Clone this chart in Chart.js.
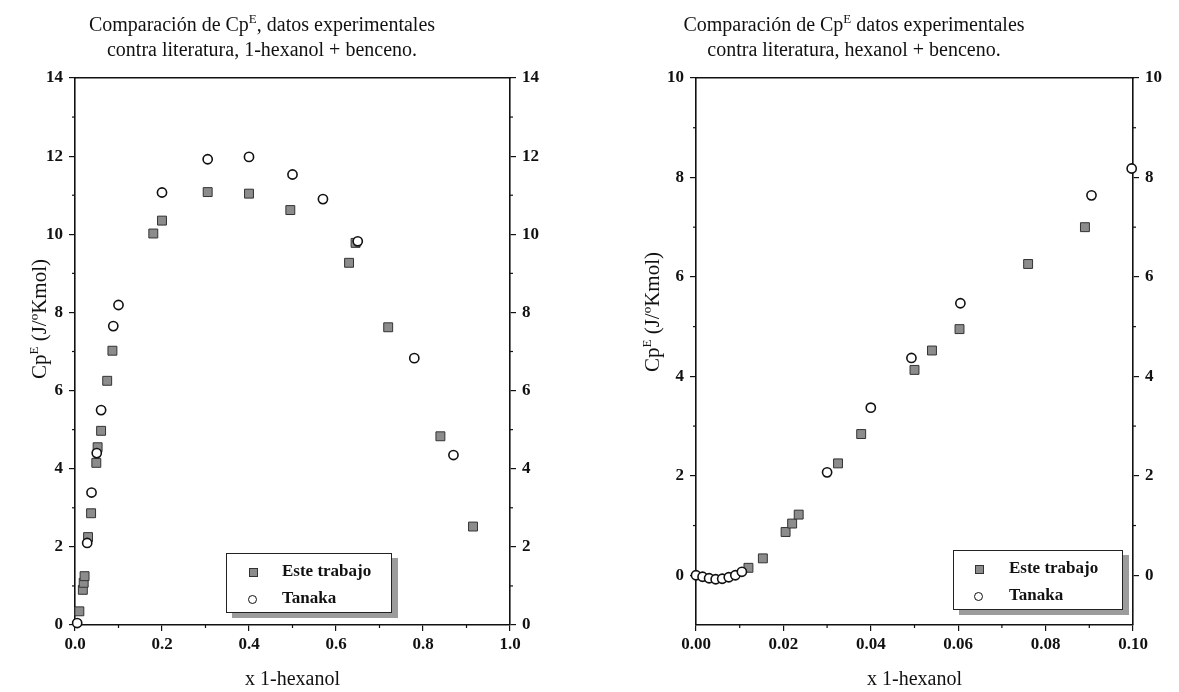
<!DOCTYPE html>
<html>
<head>
<meta charset="utf-8">
<script src="https://cdn.jsdelivr.net/npm/chart.js@4"></script>
<style>
body { margin: 0; background: #fff; }
#wrap { position: relative; width: 1179px; height: 692px; overflow: hidden;
        font-family: 'Liberation Serif', 'DejaVu Serif', serif; color: #111; }
.box { position: absolute; top: 0; height: 692px; }
.ttl { position: absolute; width: 440px; text-align: center; font-size: 20px; line-height: 25px; white-space: nowrap; }
.ttl sup, .yt sup { font-size: 13px; line-height: 0; }
.yt { position: absolute; width: 220px; height: 24px; line-height: 24px; text-align: center;
      font-size: 21px; transform: rotate(-90deg); white-space: nowrap; }
.leg { position: absolute; height: 60px; box-sizing: border-box;
       border: 1.5px solid #222; background: #fff; box-shadow: 6px 5px 0 #9c9c9c;
       font-size: 17px; font-weight: bold; }
.leg .t { position: absolute; line-height: 20px; }
.leg .sq { position: absolute; width: 7px; height: 7px; background: #8c8c8c; border: 1px solid #333; }
.leg .ci { position: absolute; width: 7px; height: 7px; border: 1.6px solid #111; border-radius: 50%; background: #fff; }
</style>
</head>
<body>
<div id="wrap">
  <div class="box" style="left:0;width:590px"><canvas id="c1" width="590" height="692"></canvas></div>
  <div class="box" style="left:590px;width:589px"><canvas id="c2" width="589" height="692"></canvas></div>

  <div class="ttl" style="left:42px;top:12px">Comparación de Cp<sup>E</sup>, datos experimentales<br>contra literatura, 1-hexanol + benceno.</div>
  <div class="ttl" style="left:634px;top:12px">Comparación de Cp<sup>E</sup> datos experimentales<br>contra literatura, hexanol + benceno.</div>

  <div class="yt" style="left:-71px;top:307px">Cp<sup>E</sup> (J/ºKmol)</div>
  <div class="yt" style="left:542px;top:300px">Cp<sup>E</sup> (J/ºKmol)</div>

  <div class="leg" style="left:226px;top:553px;width:166px">
    <span class="sq" style="left:22px;top:14px"></span><span class="t" style="left:55px;top:7px">Este trabajo</span>
    <span class="ci" style="left:21px;top:41px"></span><span class="t" style="left:55px;top:34px">Tanaka</span>
  </div>
  <div class="leg" style="left:953px;top:550px;width:170px">
    <span class="sq" style="left:21px;top:14px"></span><span class="t" style="left:55px;top:7px">Este trabajo</span>
    <span class="ci" style="left:20px;top:41px"></span><span class="t" style="left:55px;top:34px">Tanaka</span>
  </div>
</div>
<script>
// left chart: 1-hexanol + benceno, full range
const esteX1 = [0.010, 0.018, 0.020, 0.022, 0.030, 0.037, 0.049, 0.052, 0.060, 0.074, 0.086, 0.180, 0.200, 0.305, 0.400, 0.495, 0.630, 0.645, 0.720, 0.840, 0.915];
const esteY1 = [0.35, 0.90, 1.08, 1.25, 2.25, 2.86, 4.15, 4.55, 4.97, 6.25, 7.02, 10.02, 10.35, 11.08, 11.04, 10.62, 9.27, 9.78, 7.62, 4.83, 2.52];
const tanakaX1 = [0.005, 0.028, 0.038, 0.050, 0.060, 0.088, 0.100, 0.200, 0.305, 0.400, 0.500, 0.570, 0.650, 0.780, 0.870];
const tanakaY1 = [0.05, 2.10, 3.39, 4.40, 5.50, 7.65, 8.19, 11.07, 11.92, 11.98, 11.53, 10.90, 9.82, 6.83, 4.35];

// right chart: low concentration zoom
const esteX2 = [0.0120, 0.0153, 0.0205, 0.0220, 0.0235, 0.0325, 0.0378, 0.0500, 0.0540, 0.0603, 0.0760, 0.0890];
const esteY2 = [0.15, 0.34, 0.87, 1.04, 1.22, 2.25, 2.84, 4.13, 4.52, 4.95, 6.26, 7.00];
const tanakaX2 = [0.0000, 0.0015, 0.0030, 0.0045, 0.0060, 0.0075, 0.0090, 0.0105, 0.0300, 0.0400, 0.0493, 0.0605, 0.0905, 0.0997];
const tanakaY2 = [0.00, -0.03, -0.06, -0.08, -0.07, -0.04, 0.00, 0.07, 2.07, 3.37, 4.37, 5.47, 7.64, 8.18];

// ticks
const xTicks1 = [0, 0.2, 0.4, 0.6, 0.8, 1.0];
const xMinor1 = [0.1, 0.3, 0.5, 0.7, 0.9];
const yTicks1 = [0, 2, 4, 6, 8, 10, 12, 14];
const yMinor1 = [1, 3, 5, 7, 9, 11, 13];
const xTicks2 = [0, 0.02, 0.04, 0.06, 0.08, 0.10];
const xMinor2 = [0.01, 0.03, 0.05, 0.07, 0.09];
const yTicks2 = [0, 2, 4, 6, 8, 10];
const yMinor2 = [1, 3, 5, 7, 9];

const SERIF = "'Liberation Serif', 'DejaVu Serif', serif";
const INK = '#111';

function pts(xs, ys) {
  return xs.map((x, i) => ({x: x, y: ys[i]}));
}

// small outward tick marks between the labelled ones
const minorTicks = {
  id: 'minorTicks',
  afterDraw(chart, args, opts) {
    const ctx = chart.ctx;
    ctx.save();
    ctx.strokeStyle = INK;
    ctx.lineWidth = 1.2;
    for (const id in opts.marks) {
      const s = chart.scales[id];
      for (const v of opts.marks[id]) {
        const p = s.getPixelForValue(v);
        ctx.beginPath();
        if (s.isHorizontal()) { ctx.moveTo(p, s.top); ctx.lineTo(p, s.top + 3); }
        else if (s.position === 'left') { ctx.moveTo(s.right, p); ctx.lineTo(s.right - 3, p); }
        else { ctx.moveTo(s.left, p); ctx.lineTo(s.left + 3, p); }
        ctx.stroke();
      }
    }
    ctx.restore();
  }
};

function makeChart(id, o) {
  const tickFont = {family: SERIF, size: 17, weight: 'bold'};
  const grid = {drawOnChartArea: false, color: INK, lineWidth: 1.2, tickLength: 6};
  const border = {color: INK, width: 1.6};
  new Chart(document.getElementById(id), {
    type: 'scatter',
    data: {
      datasets: [{
        label: 'Este trabajo',
        data: pts(o.ex, o.ey),
        pointStyle: 'rect',
        pointRadius: 6.3,
        backgroundColor: '#8c8c8c',
        borderColor: '#333',
        borderWidth: 1,
        clip: false,
        order: 1
      }, {
        label: 'Tanaka',
        data: pts(o.tx, o.ty),
        pointStyle: 'circle',
        pointRadius: 4.6,
        backgroundColor: '#fff',
        borderColor: INK,
        borderWidth: 1.6,
        clip: false,
        order: 0
      }]
    },
    options: {
      responsive: false,
      animation: false,
      layout: {padding: 0},
      plugins: {
        legend: {display: false},
        tooltip: {enabled: false},
        minorTicks: {marks: {x: o.xMinor, y: o.yMinor, y2: o.yMinor}}
      },
      scales: {
        x: {
          type: 'linear', position: 'bottom', min: o.xMin, max: o.xMax,
          afterBuildTicks: s => { s.ticks = o.xTicks.map(v => ({value: v})); },
          afterFit: s => { s.height = o.bottomH; },
          ticks: {color: INK, font: tickFont, padding: 3, maxRotation: 0,
                  callback: v => v.toFixed(o.xDec)},
          grid: grid, border: border,
          title: {display: true, text: 'x 1-hexanol', color: INK,
                  font: {family: SERIF, size: 20}, padding: {top: 0, bottom: 0}}
        },
        x2: {
          type: 'linear', position: 'top', min: o.xMin, max: o.xMax,
          afterFit: s => { s.height = 78; },
          ticks: {display: false}, grid: {display: false}, border: border
        },
        y: {
          type: 'linear', position: 'left', min: o.yMin, max: o.yMax,
          afterBuildTicks: s => { s.ticks = o.yTicks.map(v => ({value: v})); },
          afterFit: s => { s.width = o.leftW; },
          ticks: {color: INK, font: tickFont, padding: 6},
          grid: grid, border: border
        },
        y2: {
          type: 'linear', position: 'right', min: o.yMin, max: o.yMax,
          afterBuildTicks: s => { s.ticks = o.yTicks.map(v => ({value: v})); },
          afterFit: s => { s.width = o.rightW; },
          ticks: {color: INK, font: tickFont, padding: 6},
          grid: grid, border: border
        }
      }
    },
    plugins: [minorTicks]
  });
}

makeChart('c1', {
  ex: esteX1, ey: esteY1, tx: tanakaX1, ty: tanakaY1,
  xMin: 0, xMax: 1, xTicks: xTicks1, xMinor: xMinor1, xDec: 1,
  yMin: 0, yMax: 14, yTicks: yTicks1, yMinor: yMinor1,
  leftW: 75, rightW: 80, bottomH: 67
});

makeChart('c2', {
  ex: esteX2, ey: esteY2, tx: tanakaX2, ty: tanakaY2,
  xMin: 0, xMax: 0.1, xTicks: xTicks2, xMinor: xMinor2, xDec: 2,
  yMin: -1, yMax: 10, yTicks: yTicks2, yMinor: yMinor2,
  leftW: 106, rightW: 46, bottomH: 67
});
</script>
</body>
</html>
